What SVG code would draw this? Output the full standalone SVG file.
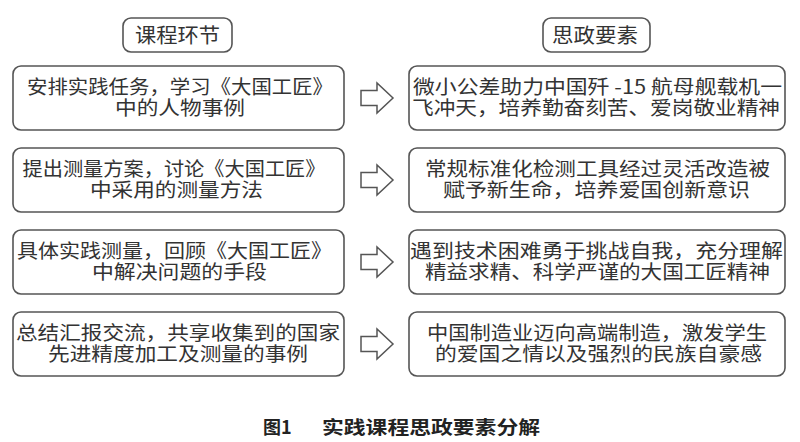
<svg xmlns="http://www.w3.org/2000/svg" width="800" height="442" viewBox="0 0 800 442">
<defs>
<style>
.box{fill:#fff;stroke:#555;stroke-width:1.6}
.t{font-family:"Noto Sans CJK SC","Noto Sans",sans-serif;font-size:19.5px;fill:#333;text-anchor:middle}
.h{font-family:"Noto Sans CJK SC","Noto Sans",sans-serif;font-size:20px;fill:#333;text-anchor:middle}
.arr{fill:#fff;stroke:#555;stroke-width:1.5;stroke-linejoin:miter}
.cap{font-family:"Noto Sans CJK SC","Liberation Sans",sans-serif;font-size:18px;font-weight:bold;fill:#222}
</style>
<polygon id="ar" class="arr" points="0,-7.5 16,-7.5 16,-15 32,0 16,15 16,7.5 0,7.5"/>
</defs>
<rect width="800" height="442" fill="#fff"/>
<g id="h1"><rect class="box" x="123" y="18" width="109" height="34" rx="8"/><text class="h" x="177.5" y="42.5" textLength="85" lengthAdjust="spacingAndGlyphs">课程环节</text></g>
<g id="h2"><rect class="box" x="543" y="18" width="107" height="34" rx="8"/><text class="h" x="595" y="42.5" textLength="86" lengthAdjust="spacingAndGlyphs">思政要素</text></g>

<g id="l1"><rect class="box" x="13" y="66" width="331" height="64" rx="8"/>
<text class="t" x="180" y="93.5" textLength="306" lengthAdjust="spacingAndGlyphs">安排实践任务，学习《大国工匠》</text>
<text class="t" x="180" y="115" textLength="130" lengthAdjust="spacingAndGlyphs">中的人物事例</text></g>
<g id="l2"><rect class="box" x="13" y="148" width="331" height="64" rx="8"/>
<text class="t" x="174" y="175.5" textLength="303" lengthAdjust="spacingAndGlyphs">提出测量方案，讨论《大国工匠》</text>
<text class="t" x="176.5" y="197" textLength="173" lengthAdjust="spacingAndGlyphs">中采用的测量方法</text></g>
<g id="l3"><rect class="box" x="13" y="230" width="331" height="64" rx="8"/>
<text class="t" x="174.5" y="257.5" textLength="315" lengthAdjust="spacingAndGlyphs">具体实践测量，回顾《大国工匠》</text>
<text class="t" x="179.5" y="279" textLength="175" lengthAdjust="spacingAndGlyphs">中解决问题的手段</text></g>
<g id="l4"><rect class="box" x="13" y="312" width="331" height="64" rx="8"/>
<text class="t" x="178" y="339.5" textLength="324" lengthAdjust="spacingAndGlyphs">总结汇报交流，共享收集到的国家</text>
<text class="t" x="178" y="361" textLength="260" lengthAdjust="spacingAndGlyphs">先进精度加工及测量的事例</text></g>

<g id="r1"><rect class="box" x="409" y="66" width="376" height="64" rx="8"/>
<text class="t" x="597.5" y="93.5" textLength="369" lengthAdjust="spacingAndGlyphs">微小公差助力中国歼 -15 航母舰载机一</text>
<text class="t" x="596" y="115" textLength="368" lengthAdjust="spacingAndGlyphs">飞冲天，培养勤奋刻苦、爱岗敬业精神</text></g>
<g id="r2"><rect class="box" x="409" y="148" width="376" height="64" rx="8"/>
<text class="t" x="597.5" y="175.5" textLength="345" lengthAdjust="spacingAndGlyphs">常规标准化检测工具经过灵活改造被</text>
<text class="t" x="596.5" y="197" textLength="307" lengthAdjust="spacingAndGlyphs">赋予新生命，培养爱国创新意识</text></g>
<g id="r3"><rect class="box" x="409" y="230" width="376" height="64" rx="8"/>
<text class="t" x="596.5" y="257.5" textLength="373" lengthAdjust="spacingAndGlyphs">遇到技术困难勇于挑战自我，充分理解</text>
<text class="t" x="597.5" y="279" textLength="345" lengthAdjust="spacingAndGlyphs">精益求精、科学严谨的大国工匠精神</text></g>
<g id="r4"><rect class="box" x="409" y="312" width="376" height="64" rx="8"/>
<text class="t" x="597" y="339.5" textLength="340" lengthAdjust="spacingAndGlyphs">中国制造业迈向高端制造，激发学生</text>
<text class="t" x="598.5" y="361" textLength="327" lengthAdjust="spacingAndGlyphs">的爱国之情以及强烈的民族自豪感</text></g>

<g id="connectors">
<use href="#ar" x="361" y="98"/>
<use href="#ar" x="361" y="180"/>
<use href="#ar" x="361" y="262"/>
<use href="#ar" x="361" y="344"/>
</g>

<g id="caption">
<text class="cap" x="263" y="434">图1</text>
<text class="cap" x="322" y="434" textLength="218" lengthAdjust="spacingAndGlyphs">实践课程思政要素分解</text>
</g>
</svg>
